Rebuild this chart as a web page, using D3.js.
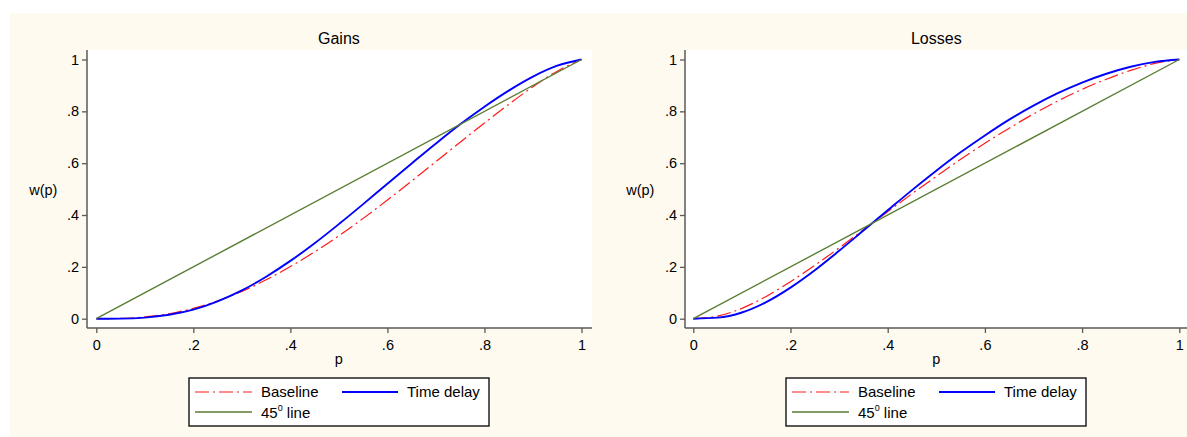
<!DOCTYPE html>
<html><head><meta charset="utf-8">
<script src="https://cdn.jsdelivr.net/npm/d3@7"></script>
<style>
html,body{margin:0;padding:0;background:#fff;}
svg{display:block;font-family:"Liberation Sans",Arial,Helvetica,sans-serif;}
</style>
</head><body>
<svg id="c" width="1187" height="437"></svg>
<script>
// ---- data ----
const pGrid = [0,0.05,0.1,0.15,0.2,0.25,0.3,0.35,0.4,0.45,0.5,0.55,0.6,0.65,0.7,0.75,0.8,0.85,0.9,0.95,1];
const gainsBaseline  = [0,0.001,0.007,0.019,0.040,0.069,0.105,0.150,0.201,0.258,0.320,0.387,0.458,0.531,0.606,0.681,0.755,0.827,0.895,0.955,1];
const gainsDelay     = [0,0.0003,0.004,0.015,0.035,0.067,0.109,0.162,0.223,0.291,0.365,0.442,0.521,0.599,0.676,0.750,0.818,0.880,0.934,0.976,1];
const lossesBaseline = [0,0.010,0.040,0.086,0.143,0.206,0.273,0.343,0.413,0.482,0.549,0.615,0.677,0.735,0.790,0.840,0.885,0.924,0.958,0.985,1];
const lossesDelay    = [0,0.004,0.024,0.064,0.120,0.187,0.262,0.340,0.418,0.496,0.571,0.642,0.707,0.768,0.822,0.870,0.911,0.945,0.972,0.991,1];
const diagP = [0,1];
const diagW = [0,1];
const panelTitles = ["Gains","Losses"];
const xTicks = [0,0.2,0.4,0.6,0.8,1];
const xTickLabels = ["0",".2",".4",".6",".8","1"];
const yTicks = [0,0.2,0.4,0.6,0.8,1];
const yTickLabels = ["0",".2",".4",".6",".8","1"];
const seriesNames = ["Baseline","Time delay","45"];

// ---- layout ----
const svg = d3.select("#c");
svg.append("rect").attr("x",10).attr("y",13).attr("width",1177).attr("height",424).attr("fill","#fefaf0");

const panels = [
  {title:panelTitles[0], r0:96.3, r1:581.5, axisX:87, right:592, base:gainsBaseline, delay:gainsDelay, lx:189},
  {title:panelTitles[1], r0:693.3, r1:1179.3, axisX:685, right:1190, base:lossesBaseline, delay:lossesDelay, lx:786}
];
const axisY = 328, plotTop = 50;
const axisColor = "#5a5a5a";
const red = "#ff1a1a", blue = "#0000ff", green = "#5b7d33";
const fs = 14.5, lfs = 15;

panels.forEach(P => {
  const g = svg.append("g");
  const x = d3.scaleLinear().domain([0,1]).range([P.r0,P.r1]);
  const y = d3.scaleLinear().domain([0,1]).range([318.7,59.5]);

  g.append("rect").attr("x",P.axisX).attr("y",plotTop).attr("width",P.right-P.axisX).attr("height",axisY-plotTop).attr("fill","#fff");

  const line = d3.line().x(d=>x(d[0])).y(d=>y(d[1])).curve(d3.curveMonotoneX);
  g.append("path").datum(pGrid.map((p,i)=>[p,P.base[i]])).attr("d",line)
    .attr("fill","none").attr("stroke",red).attr("stroke-width",1.2).attr("stroke-dasharray","14,4,2,4");
  g.append("path").datum(pGrid.map((p,i)=>[p,P.delay[i]])).attr("d",line)
    .attr("fill","none").attr("stroke",blue).attr("stroke-width",1.9);
  g.append("path").datum(diagP.map((p,i)=>[p,diagW[i]])).attr("d",d3.line().x(d=>x(d[0])).y(d=>y(d[1])))
    .attr("fill","none").attr("stroke",green).attr("stroke-width",1.4);

  // axes
  const ya = g.append("g").attr("transform",`translate(${P.axisX},0)`)
    .call(d3.axisLeft(y).tickValues(yTicks).tickFormat((d,i)=>yTickLabels[i]).tickSize(5).tickPadding(3));
  const xa = g.append("g").attr("transform",`translate(0,${axisY})`)
    .call(d3.axisBottom(x).tickValues(xTicks).tickFormat((d,i)=>xTickLabels[i]).tickSize(5).tickPadding(7));
  [ya,xa].forEach(a=>{
    a.select(".domain").remove();
    a.selectAll(".tick line").attr("stroke",axisColor).attr("stroke-width",1.3);
    a.selectAll(".tick text").attr("font-size",fs).attr("fill","#000").attr("font-family","Liberation Sans, Arial, sans-serif");
  });
  g.append("line").attr("x1",P.axisX).attr("x2",P.axisX).attr("y1",plotTop).attr("y2",axisY).attr("stroke",axisColor).attr("stroke-width",1.5);
  g.append("line").attr("x1",P.axisX).attr("x2",P.right).attr("y1",axisY).attr("y2",axisY).attr("stroke",axisColor).attr("stroke-width",1.5);

  const cx = (P.r0+P.r1)/2;
  g.append("text").attr("x",cx).attr("y",44).attr("text-anchor","middle").attr("font-size",16).text(P.title);
  g.append("text").attr("x",P.r0-53).attr("y",195).attr("text-anchor","middle").attr("font-size",fs).text("w(p)");
  g.append("text").attr("x",cx).attr("y",364).attr("text-anchor","middle").attr("font-size",fs).text("p");

  // legend
  const L = g.append("g").attr("transform",`translate(${P.lx},378)`);
  L.append("rect").attr("x",0).attr("y",0).attr("width",300).attr("height",48).attr("fill","#fff").attr("stroke","#000").attr("stroke-width",1.3);
  L.append("line").attr("x1",6).attr("x2",63).attr("y1",14).attr("y2",14).attr("stroke",red).attr("stroke-width",1.2).attr("stroke-dasharray","14,4,2,4");
  L.append("text").attr("x",72).attr("y",19).attr("font-size",lfs).text(seriesNames[0]);
  L.append("line").attr("x1",153).attr("x2",209).attr("y1",14).attr("y2",14).attr("stroke",blue).attr("stroke-width",1.9);
  L.append("text").attr("x",218).attr("y",19).attr("font-size",lfs).text(seriesNames[1]);
  L.append("line").attr("x1",6).attr("x2",63).attr("y1",34).attr("y2",34).attr("stroke",green).attr("stroke-width",1.4);
  const t = L.append("text").attr("x",72).attr("y",40).attr("font-size",lfs);
  t.append("tspan").text(seriesNames[2]);
  t.append("tspan").attr("font-size",9).attr("dy",-7).text("0");
  t.append("tspan").attr("dy",7).text(" line");
});
</script>
</body></html>
